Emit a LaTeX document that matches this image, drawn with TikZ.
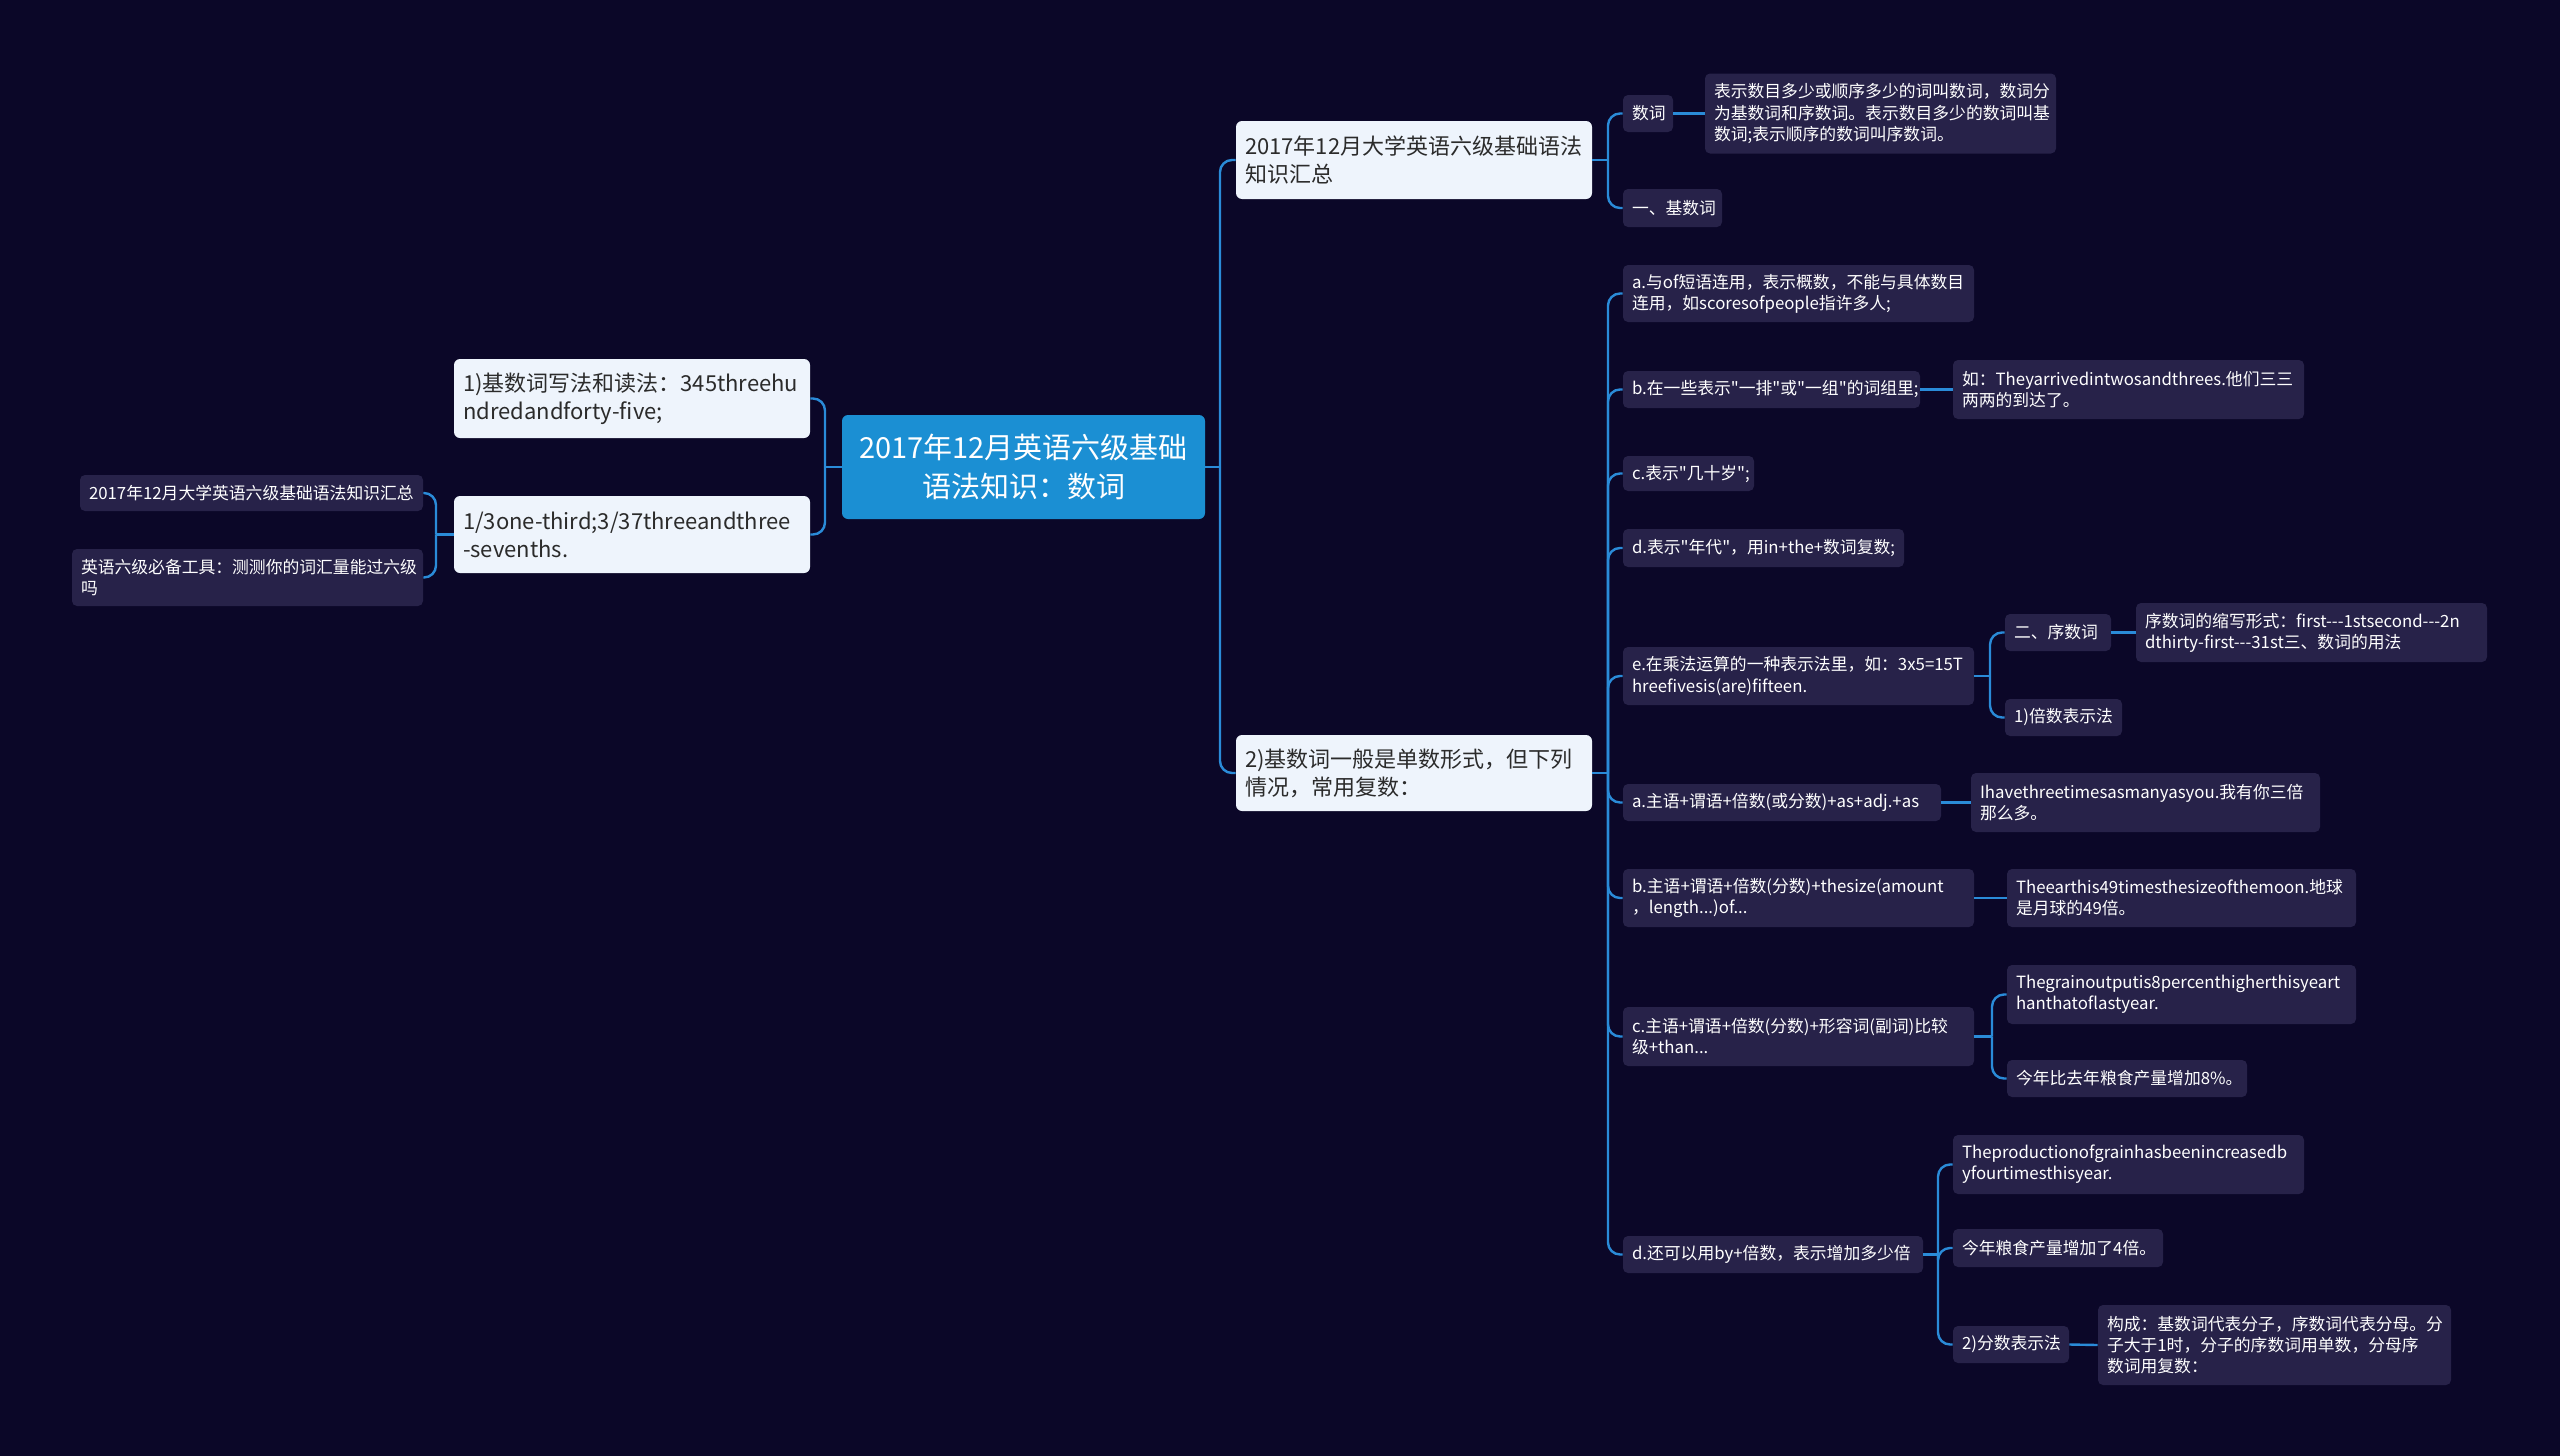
\documentclass[tikz,border=0pt]{standalone}
\usepackage{fontspec}
\newfontfamily\cjk{Noto Sans CJK SC}
\definecolor{bgcol}{HTML}{0B0728}
\definecolor{darkbox}{HTML}{272249}
\definecolor{lightbox}{HTML}{EEF4FC}
\definecolor{lighttext}{HTML}{2B2B2B}
\definecolor{rootcol}{HTML}{1B8FD3}
\definecolor{linkcol}{HTML}{2A8BD8}
\tikzset{
  darkn/.style={fill=darkbox, rounded corners=2.5pt, text=white, inner xsep=4.5pt, inner ysep=1pt, align=left, font=\cjk\fontsize{8.4}{10.6}\selectfont},
  lightn/.style={fill=lightbox, rounded corners=3pt, text=lighttext, inner xsep=4.5pt, inner ysep=1pt, align=left, font=\cjk\fontsize{11}{14}\selectfont},
  rootn/.style={fill=rootcol, rounded corners=3pt, text=white, inner xsep=4.5pt, inner ysep=1pt, align=center, font=\cjk\fontsize{14.5}{19.5}\selectfont},
  link/.style={draw=linkcol, line width=1.2pt},
}
\newcommand\mmnode[7]{%
  \pgfmathsetmacro\mmW{(#5-#3)/2}%
  \pgfmathsetmacro\mmH{(#6-#4)/2}%
  \pgfmathsetmacro\mmT{(#5-#3)/2-9}%
  \pgfmathsetmacro\mmX{(#3+#5)/2}%
  \pgfmathsetmacro\mmY{(#4+#6)/2}%
  \node[#2, minimum width=\mmW pt, minimum height=\mmH pt, text width=\mmT pt] (#1) at (\mmX,\mmY) {#7};}
\newcommand\rbranch[3]{%
  \draw[link] (#1.east) -- (#1.east -| #3);
  \draw[link, rounded corners=6pt] (#1.east -| #3) |- (#2.west);}
\newcommand\lbranch[3]{%
  \draw[link] (#1.west) -- (#1.west -| #3);
  \draw[link, rounded corners=6pt] (#1.west -| #3) |- (#2.east);}
\newcommand\straight[2]{\draw[link] (#1.east) -- (#2.west);}
\begin{document}
\begin{tikzpicture}[x=0.5pt,y=-0.5pt]
\fill[bgcol] (0,0) rectangle (2560,1456);
\useasboundingbox (0,0) rectangle (2560,1456);
% spines
\coordinate (sL) at (825,0);
\coordinate (sLL) at (436,0);
\coordinate (sR) at (1220,0);
\coordinate (sR2) at (1608,0);
\coordinate (sE) at (1990,0);
\coordinate (sC2) at (1992,0);
\coordinate (sD2) at (1938,0);
% nodes
\mmnode{root}{rootn}{842}{415}{1205}{519}{2017年12月英语六级基础\\语法知识：数词}
\mmnode{L1}{lightn}{454}{359}{810}{438}{1)基数词写法和读法：345threehu\\ndredandforty-five;}
\mmnode{L2}{lightn}{454}{496}{810}{573}{1/3one-third;3/37threeandthree\\-sevenths.}
\mmnode{LL1}{darkn}{80}{475}{423}{511}{2017年12月大学英语六级基础语法知识汇总}
\mmnode{LL2}{darkn}{72}{549}{423}{606}{英语六级必备工具：测测你的词汇量能过六级\\吗}
\mmnode{R1}{lightn}{1236}{121}{1592}{199}{2017年12月大学英语六级基础语法\\知识汇总}
\mmnode{R2}{lightn}{1236}{735}{1592}{811}{2)基数词一般是单数形式，但下列\\情况，常用复数：}
\mmnode{shuci}{darkn}{1623}{95}{1673}{132}{数词}
\mmnode{shuciC}{darkn}{1705}{73.5}{2056}{153.5}{表示数目多少或顺序多少的词叫数词，数词分\\为基数词和序数词。表示数目多少的数词叫基\\数词;表示顺序的数词叫序数词。}
\mmnode{jishu}{darkn}{1623}{189}{1722}{227}{一、基数词}
\mmnode{a}{darkn}{1623}{265}{1974}{322}{a.与of短语连用，表示概数，不能与具体数目\\连用，如scoresofpeople指许多人;}
\mmnode{b}{darkn}{1623}{371}{1920}{408}{b.在一些表示"一排"或"一组"的词组里;}
\mmnode{bC}{darkn}{1953}{360}{2304}{419}{如：Theyarrivedintwosandthrees.他们三三\\两两的到达了。}
\mmnode{c}{darkn}{1623}{456}{1754}{491}{c.表示"几十岁";}
\mmnode{d}{darkn}{1623}{529}{1904}{567}{d.表示"年代"，用in+the+数词复数;}
\mmnode{e}{darkn}{1623}{647}{1974}{705}{e.在乘法运算的一种表示法里，如：3x5=15T\\hreefivesis(are)fifteen.}
\mmnode{xu}{darkn}{2005}{614}{2111}{651}{二、序数词}
\mmnode{xuC}{darkn}{2136}{603}{2487}{662}{序数词的缩写形式：first---1stsecond---2n\\dthirty-first---31st三、数词的用法}
\mmnode{bei}{darkn}{2005}{699}{2122}{736}{1)倍数表示法}
\mmnode{a2}{darkn}{1623}{784}{1941}{821}{a.主语+谓语+倍数(或分数)+as+adj.+as}
\mmnode{a2C}{darkn}{1971}{773}{2320}{832}{Ihavethreetimesasmanyasyou.我有你三倍\\那么多。}
\mmnode{b2}{darkn}{1623}{869}{1974}{927}{b.主语+谓语+倍数(分数)+thesize(amount\\，length...)of...}
\mmnode{b2C}{darkn}{2007}{869}{2356}{927}{Theearthis49timesthesizeofthemoon.地球\\是月球的49倍。}
\mmnode{c2}{darkn}{1623}{1007}{1974}{1066}{c.主语+谓语+倍数(分数)+形容词(副词)比较\\级+than...}
\mmnode{c2A}{darkn}{2007}{965}{2356}{1024}{Thegrainoutputis8percenthigherthisyeart\\hanthatoflastyear.}
\mmnode{c2B}{darkn}{2007}{1060}{2247}{1097}{今年比去年粮食产量增加8\%。}
\mmnode{d2}{darkn}{1623}{1236}{1923}{1273}{d.还可以用by+倍数，表示增加多少倍}
\mmnode{d2A}{darkn}{1953}{1135}{2304}{1194}{Theproductionofgrainhasbeenincreasedb\\yfourtimesthisyear.}
\mmnode{d2B}{darkn}{1953}{1229}{2163}{1267}{今年粮食产量增加了4倍。}
\mmnode{d2C}{darkn}{1953}{1326}{2069}{1363}{2)分数表示法}
\mmnode{d2CC}{darkn}{2098}{1305}{2451}{1385}{构成：基数词代表分子，序数词代表分母。分\\子大于1时，分子的序数词用单数，分母序\\数词用复数：}
% connectors
\lbranch{root}{L1}{sL}
\lbranch{root}{L2}{sL}
\lbranch{L2}{LL1}{sLL}
\lbranch{L2}{LL2}{sLL}
\rbranch{root}{R1}{sR}
\rbranch{root}{R2}{sR}
\rbranch{R1}{shuci}{sR2}
\rbranch{R1}{jishu}{sR2}
\straight{shuci}{shuciC}
\rbranch{R2}{a}{sR2}
\rbranch{R2}{b}{sR2}
\rbranch{R2}{c}{sR2}
\rbranch{R2}{d}{sR2}
\rbranch{R2}{e}{sR2}
\rbranch{R2}{a2}{sR2}
\rbranch{R2}{b2}{sR2}
\rbranch{R2}{c2}{sR2}
\rbranch{R2}{d2}{sR2}
\straight{b}{bC}
\rbranch{e}{xu}{sE}
\rbranch{e}{bei}{sE}
\straight{xu}{xuC}
\straight{a2}{a2C}
\straight{b2}{b2C}
\rbranch{c2}{c2A}{sC2}
\rbranch{c2}{c2B}{sC2}
\rbranch{d2}{d2A}{sD2}
\rbranch{d2}{d2B}{sD2}
\rbranch{d2}{d2C}{sD2}
\straight{d2C}{d2CC}
\end{tikzpicture}
\end{document}
